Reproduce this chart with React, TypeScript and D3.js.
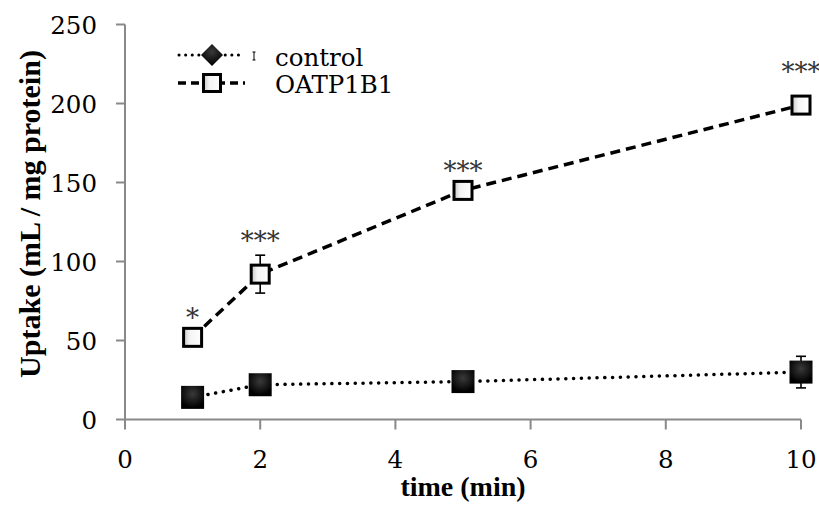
import React from "react";
import { scaleLinear, line } from "d3";

// values
const times = [1, 2, 5, 10];
const controlMean = [14, 22, 24, 30];
const controlErr = [2, 2, 2, 10];
const oatpMean = [52, 92, 145, 199];
const oatpErr = [2, 12, 2, 2];
const sigLabels = ["*", "***", "***", "***"];
const sigLabelY = [68, 117, 161, 224];
const xTicks = [0, 2, 4, 6, 8, 10];
const yTicks = [0, 50, 100, 150, 200, 250];

const W = 819;
const H = 508;
const margin = { left: 125, right: 18, top: 24.5, bottom: 88.5 };
const axisColor = "#898989";
const regular = "'DejaVu Serif', serif";
const bold = "'Liberation Serif', 'Times New Roman', serif";

function ErrorBar({ x, y0, y1 }: { x: number; y0: number; y1: number }) {
  return (
    <g stroke="#000" strokeWidth={1.6}>
      <line x1={x} x2={x} y1={y0} y2={y1} />
      <line x1={x - 5} x2={x + 5} y1={y0} y2={y0} />
      <line x1={x - 5} x2={x + 5} y1={y1} y2={y1} />
    </g>
  );
}

export default function App() {
  const x = scaleLinear().domain([0, 10]).range([margin.left, W - margin.right]);
  const y = scaleLinear().domain([0, 250]).range([H - margin.bottom, margin.top]);

  const ctrlPts: [number, number][] = times.map((t, i) => [x(t), y(controlMean[i])]);
  const oatpPts: [number, number][] = times.map((t, i) => [x(t), y(oatpMean[i])]);
  const path = line();

  const y0 = y(0);

  return (
    <svg width={W} height={H} style={{ position: "absolute", left: 0, top: 0, background: "#fff" }}>
      <defs>
        <linearGradient id="whiteGrad" x1="0" x2="1" y1="0" y2="0">
          <stop offset="0" stopColor="#c8c8c8" />
          <stop offset="0.35" stopColor="#f4f4f4" />
          <stop offset="1" stopColor="#ffffff" />
        </linearGradient>
        <radialGradient id="blackGrad" cx="0.5" cy="0.35" r="0.6">
          <stop offset="0" stopColor="#3a3a3a" />
          <stop offset="1" stopColor="#000" />
        </radialGradient>
      </defs>

      {/* axes */}
      <g stroke={axisColor} strokeWidth={2}>
        <line x1={x(0)} x2={x(0)} y1={y(250)} y2={y0} />
        <line x1={x(0)} x2={x(10)} y1={y0} y2={y0} />
        {yTicks.map(t => (
          <line key={"yt" + t} x1={x(0) - 9} x2={x(0)} y1={y(t)} y2={y(t)} />
        ))}
        {xTicks.map(t => (
          <line key={"xt" + t} x1={x(t)} x2={x(t)} y1={y0} y2={y0 + 10} />
        ))}
      </g>
      <g fontFamily={regular} fontSize={24.5} fill="#000">
        {yTicks.map(t => (
          <text key={"yl" + t} x={97} y={y(t) + 9} textAnchor="end">
            {t}
          </text>
        ))}
        {xTicks.map(t => (
          <text key={"xl" + t} x={x(t)} y={y0 + 48} textAnchor="middle">
            {t}
          </text>
        ))}
      </g>
      <g fontFamily={bold} fontWeight="bold" fill="#000">
        <text x={(x(0) + x(10)) / 2} y={496} textAnchor="middle" fontSize={28}>
          time (min)
        </text>
        <text transform="translate(40,214) rotate(-90)" textAnchor="middle" fontSize={30}>
          Uptake (mL / mg protein)
        </text>
      </g>

      {/* control series */}
      <path d={path(ctrlPts) || ""} fill="none" stroke="#000" strokeWidth={3.5}
        strokeDasharray="0.1 7.7" strokeLinecap="round" />
      {times.map((t, i) => (
        <ErrorBar key={"ce" + i} x={x(t)} y0={y(controlMean[i] + controlErr[i])} y1={y(controlMean[i] - controlErr[i])} />
      ))}
      {ctrlPts.map(([px, py], i) => (
        <rect key={"cm" + i} x={px - 11.5} y={py - 11.5} width={23} height={23} fill="url(#blackGrad)" />
      ))}

      {/* OATP1B1 series */}
      <path d={path(oatpPts) || ""} fill="none" stroke="#000" strokeWidth={3.5}
        strokeDasharray="10 6" />
      {times.map((t, i) => (
        <ErrorBar key={"oe" + i} x={x(t)} y0={y(oatpMean[i] + oatpErr[i])} y1={y(oatpMean[i] - oatpErr[i])} />
      ))}
      {oatpPts.map(([px, py], i) => (
        <rect key={"om" + i} x={px - 9} y={py - 9} width={18} height={18} fill="url(#whiteGrad)"
          stroke="#000" strokeWidth={3} />
      ))}

      {/* significance */}
      {times.map((t, i) => (
        <text key={"s" + i} x={x(t)} y={y(sigLabelY[i]) + 15} textAnchor="middle"
          fontFamily={regular} fontSize={26} fill="#333">
          {sigLabels[i]}
        </text>
      ))}

      {/* legend */}
      <g>
        <line x1={179} x2={245} y1={55} y2={55} stroke="#000" strokeWidth={3}
          strokeDasharray="0.1 6.5" strokeLinecap="round" />
        <path d="M212,44 L223,55 L212,66 L201,55 Z" fill="url(#blackGrad)" />
        <line x1={254} x2={254} y1={52} y2={60} stroke="#000" strokeWidth={1} />
        <line x1={252.5} x2={255.5} y1={52} y2={52} stroke="#000" strokeWidth={1} />
        <line x1={252.5} x2={255.5} y1={60} y2={60} stroke="#000" strokeWidth={1} />
        <text x={275} y={66} fontFamily={regular} fontSize={24.5} fill="#000">control</text>

        <line x1={178} x2={245} y1={83} y2={83} stroke="#000" strokeWidth={3.5} strokeDasharray="8 5" />
        <rect x={203.5} y={74.5} width={17} height={17} fill="url(#whiteGrad)" stroke="#000" strokeWidth={3} />
        <text x={275} y={93} fontFamily={regular} fontSize={24.5} fill="#000">OATP1B1</text>
      </g>
    </svg>
  );
}
